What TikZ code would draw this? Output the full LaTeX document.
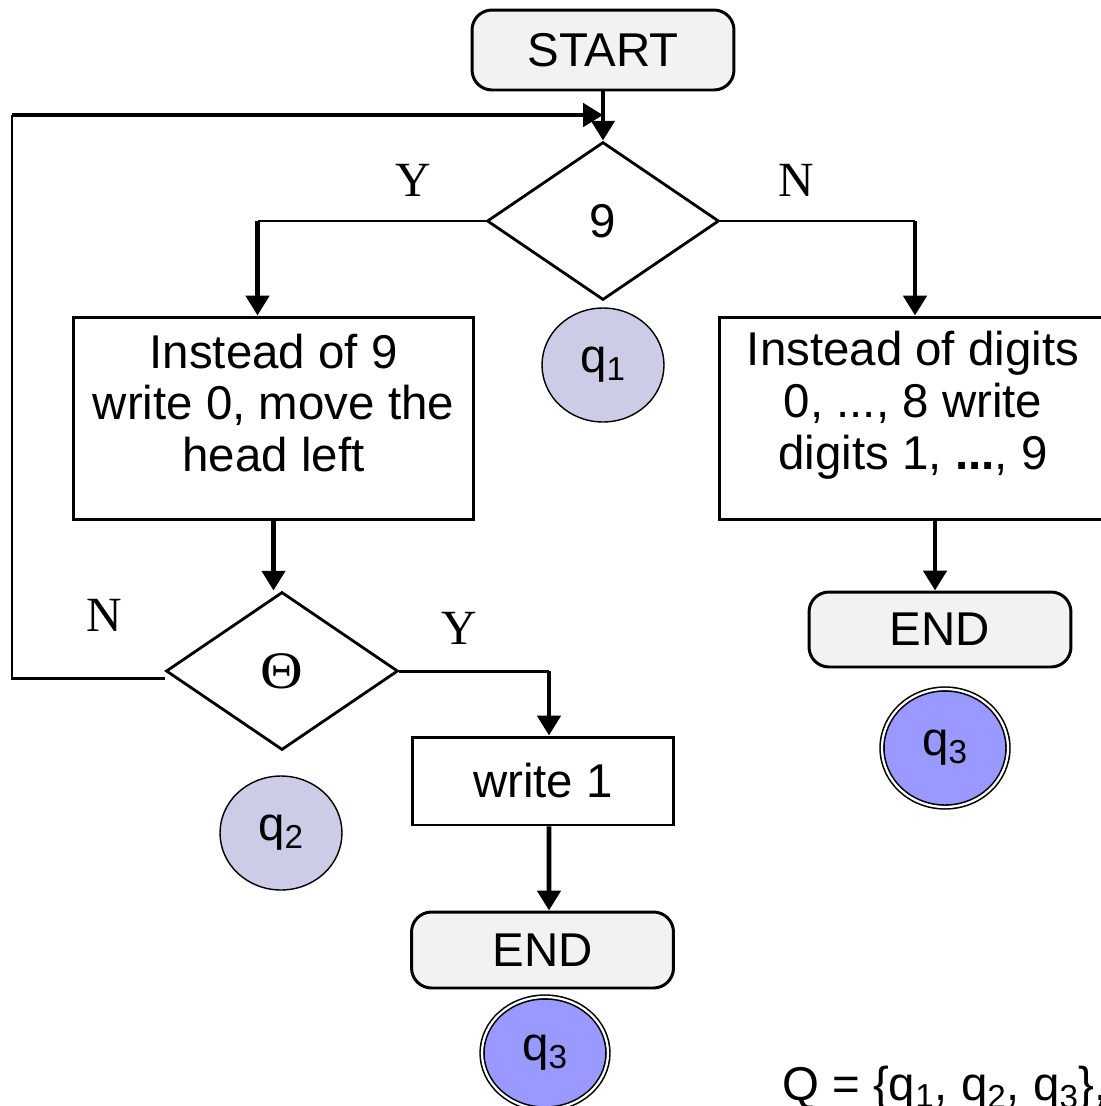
\documentclass[tikz,border=0pt]{standalone}
\usepackage{fontspec}
\setmainfont{Liberation Sans}
\newfontfamily\serifY{Liberation Serif}
\usetikzlibrary{shapes.geometric,arrows.meta,calc}
\definecolor{termfill}{HTML}{F2F2F2}
\definecolor{statefill}{HTML}{CCCCE6}
\definecolor{finalfill}{HTML}{9999FF}
\begin{document}
\begin{tikzpicture}[x=0.02cm,y=-0.02cm,
  every node/.style={font=\fontsize{27}{31}\selectfont},
  arr/.style={line width=2.8pt,-{Triangle[length=11.3pt,width=13pt]}},
  thinline/.style={line width=1.7pt},
  terminal/.style={draw,line width=1.7pt,rounded corners=0.4cm,fill=termfill,minimum width=5.24cm,inner sep=0pt},
  decision/.style={draw,diamond,line width=1.6pt,minimum width=4.64cm,minimum height=3.16cm,inner sep=0pt},
  procbox/.style={draw,line width=1.7pt,inner sep=0pt},
  boxtext/.style={align=center,font=\fontsize{27}{29.5}\selectfont},
  state/.style={draw,ellipse,line width=0.8pt,fill=statefill,inner sep=0pt},
  final/.style={draw,ellipse,line width=0.9pt,double=white,double distance=1.3pt,fill=finalfill,inner sep=0pt},
  yn/.style={font=\serifY\fontsize{28}{30}\selectfont}
]
\useasboundingbox (0,0) rectangle (1100,1106);

% terminals, decisions and process boxes
\node[terminal,minimum height=1.6cm] (start) at (603,50) {START};
\node[decision] (d9) at (603,221) {9};
\node[procbox,minimum width=8.02cm,minimum height=4.06cm] (lbox) at (273.5,418.5) {};
\node[boxtext] (ltext) at (273.5,403) {Instead of 9\\write 0, move the\\head left};
\node[procbox,minimum width=7.84cm,minimum height=4.06cm] (rbox) at (915,418.5) {};
\node[boxtext] (rtext) at (913,405) {Instead of digits\\0, ..., 8 write\\digits 1, {\bfseries ...}, 9};
\node[decision] (d2) at (282,671) {\serifY\fontsize{30}{32}\selectfont\scalebox{1.12}[1]{Θ}};
\node[procbox,minimum width=5.24cm,minimum height=1.76cm] (w1) at (543,781) {write 1};
\node[terminal,minimum height=1.52cm] (end2) at (542.5,950) {END};
\node[terminal,minimum height=1.5cm] (end1) at (940,629.5) {END};

% states
\node[state,minimum width=2.44cm,minimum height=2.28cm] (q1) at (603,365) {q\textsubscript{1}};
\node[state,minimum width=2.44cm,minimum height=2.28cm] (q2) at (281,833) {q\textsubscript{2}};
\node[final,minimum width=2.52cm,minimum height=2.36cm] (q3a) at (945,748) {q\textsubscript{3}};
\node[final,minimum width=2.52cm,minimum height=2.24cm] (q3b) at (545,1053) {q\textsubscript{3}};

% branch labels
\node[yn] (y1) at (413,180) {Y};
\node[yn] (n1) at (796,180) {N};
\node[yn] (n2) at (104,615) {N};
\node[yn] (y2) at (459,628) {Y};

% state set
\node[anchor=base west] (qset) at (776,1100) {Q = \{q\textsubscript{1}, q\textsubscript{2}, q\textsubscript{3}\},};

% elbows of the connectors
\coordinate (loopcorner) at (12,115);
\coordinate (loopbend) at (12,678);
\coordinate (yelbow) at ($(d9.west -| lbox.north)+(-16,0)$);
\coordinate (nelbow) at (d9.east -| rbox.north);
\coordinate (welbow) at ($(d2.east -| w1.north)+(6,0)$);

% connectors: thin runs, heavy arrowed drops
\draw[arr] (start.south) -- (start.south |- d9.north);
\draw[thinline] (d2.west |- loopbend) -- (loopbend) -- (loopcorner);
\draw[arr] (loopcorner) -- (start.south |- loopcorner);
\draw[thinline] (d9.west) -- (yelbow);
\draw[arr] (yelbow) -- (yelbow |- lbox.north);
\draw[thinline] (d9.east) -- (nelbow);
\draw[arr] (nelbow) -- (rbox.north);
\draw[arr] (lbox.south) -- (lbox.south |- d2.north);
\draw[thinline] (d2.east) -- (welbow);
\draw[arr] (welbow) -- (welbow |- w1.north);
\draw[arr] ($(w1.south)+(6,0)$) -- ($(end2.north)+(6.5,0)$);
\draw[arr] ($(rbox.south)+(20,0)$) -- ($(end1.north)+(-5,0)$);
\end{tikzpicture}
\end{document}
